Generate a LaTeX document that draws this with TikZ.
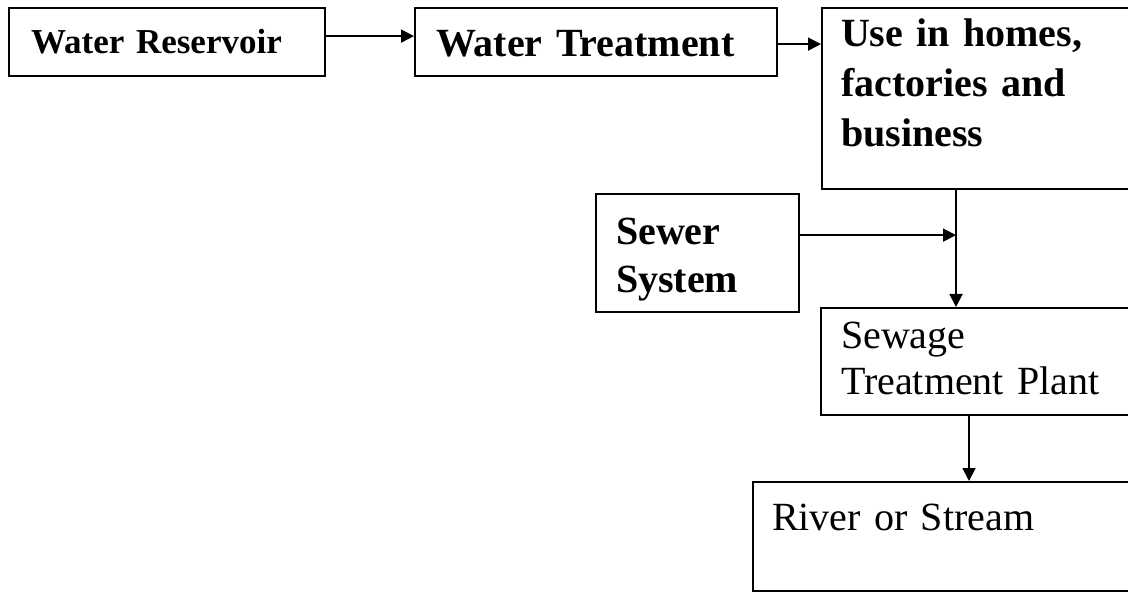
\documentclass[tikz,border=0pt]{standalone}
\usepackage{fontspec}
\setmainfont{Liberation Serif}
\usetikzlibrary{positioning}
\usetikzlibrary{calc}
\usetikzlibrary{arrows.meta}

\begin{document}
\begin{tikzpicture}[
    x=0.5pt, y=-0.5pt,
    >={Triangle[length=6.5pt,width=6.5pt]},
    % node styles
    box/.style = {
      draw=black,
      line width=1.1pt,
      anchor=north west,
      align=left,
      inner ysep=0pt,
      font=\fontsize{20pt}{25pt}\selectfont\bfseries
    },
    plainbox/.style = {
      box,
      font=\fontsize{20pt}{23pt}\selectfont
    },
    % arrow styles
    arr/.style = {->, line width=0.9pt, draw=black}
  ]
  \useasboundingbox (0,0) rectangle (1128,592);
  \clip (0,0) rectangle (1128,592);

  % --- Nodes
  \node[box, font=\fontsize{17.5pt}{21pt}\selectfont\bfseries,
        inner xsep=11pt, text width=136pt, text height=22.5pt, text depth=11.5pt]
    (resv) at (8,7) {Water Reservoir};
  \node[box, inner xsep=10.5pt, text width=160pt, text height=24pt, text depth=10pt]
    (treat) at (414,7) {Water Treatment};
  \node[box, inner xsep=9.5pt, text width=140.5pt, text height=19pt, text depth=71.5pt]
    (use) at (821,7) {Use in homes,\\factories and\\business};
  \node[box, font=\fontsize{20pt}{24pt}\selectfont\bfseries,
        inner xsep=10pt, text width=81.5pt, text height=25pt, text depth=34pt]
    (sewer) at (595,193) {Sewer\\System};
  \node[plainbox, inner xsep=10pt, text width=140pt, text height=20pt, text depth=33.5pt]
    (plant) at (820,307) {Sewage\\Treatment Plant};
  \node[plainbox, inner xsep=9.5pt, text width=175pt, text height=24pt, text depth=30.5pt]
    (river) at (752,481) {River or Stream};

  % --- Arrows
  \draw[arr] ([yshift=3pt]resv.east) -- ([yshift=3pt]resv.east -| treat.west);
  \draw[arr] ([yshift=-1pt]treat.east) -- ([yshift=-1pt]treat.east -| use.west);

  % drop from the use box down to the plant, sewer joins it
  \coordinate (drop) at ([xshift=67.5pt]use.south west);
  \draw[arr] (drop) -- (drop |- plant.north);
  \draw[arr] ([yshift=9pt]sewer.east) -- ([yshift=9pt]sewer.east -| drop);

  \draw[arr] ([xshift=74.5pt]plant.south west) -- ([xshift=74.5pt]plant.south west |- river.north);
\end{tikzpicture}
\end{document}
